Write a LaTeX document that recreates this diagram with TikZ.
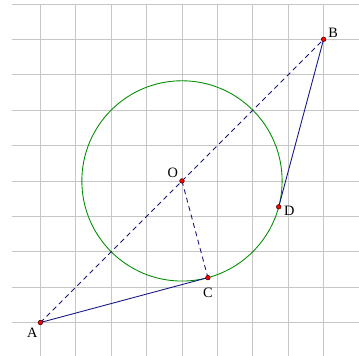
\documentclass[tikz,border=0pt]{standalone}
\usepackage{fontspec}
\setmainfont{Liberation Serif}
\usetikzlibrary{calc}
\begin{document}
\begin{tikzpicture}[
  gridline/.style={draw=gray!45, line width=0.6pt},
  seg/.style={draw={rgb,255:red,20;green,20;blue,130}, line width=0.7pt},
  dseg/.style={seg, dash pattern=on 4pt off 3pt},
  circ/.style={draw={rgb,255:red,0;green,140;blue,0}, line width=0.7pt},
  pt/.style={circle, fill=red, draw=black!80!red, line width=0.4pt, inner sep=0pt, minimum size=3.7pt},
  lbl/.style={font=\fontsize{11.5}{13}\selectfont, inner sep=1pt}
]
\useasboundingbox (-5.14,-4.94) rectangle (5.0,5.11);
\draw[gridline] (-4.8,-4.94) grid (5.0,5.0);
\coordinate (Oc) at (0,0);
\draw[circ] (Oc) circle ({2*sqrt(2)});
\coordinate (Ap) at (-4,-4);
\coordinate (Bp) at (4,4);
\coordinate (Cp) at ({2*sqrt(2)*cos(285)},{2*sqrt(2)*sin(285)});
\coordinate (Dp) at ({2*sqrt(2)*cos(-15)},{2*sqrt(2)*sin(-15)});
\draw[dseg] (Ap) -- (Bp);
\draw[dseg] (Oc) -- (Cp);
\draw[seg] (Ap) -- (Cp);
\draw[seg] (Bp) -- (Dp);
\node[pt] (A) at (Ap) {};
\node[pt] (B) at (Bp) {};
\node[pt] (O) at (Oc) {};
\node[pt] (C) at (Cp) {};
\node[pt] (D) at (Dp) {};
\node[lbl] (lA) at ($(Ap)+(-0.23,-0.29)$) {A};
\node[lbl] (lB) at ($(Bp)+(0.27,0.19)$) {B};
\node[lbl] (lO) at ($(Oc)+(-0.26,0.22)$) {O};
\node[lbl] (lC) at ($(Cp)+(0,-0.42)$) {C};
\node[lbl] (lD) at ($(Dp)+(0.3,-0.11)$) {D};
\end{tikzpicture}
\end{document}
